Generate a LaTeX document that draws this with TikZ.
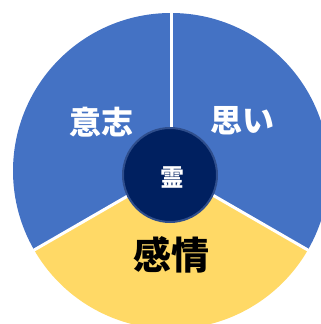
\documentclass[tikz,border=0pt]{standalone}
\usepackage{fontspec}
\newfontfamily\cjk{Noto Sans CJK JP}
\definecolor{pieblue}{HTML}{4472C4}
\definecolor{pieyellow}{HTML}{FFD966}
\definecolor{navy}{HTML}{002060}
\definecolor{navyring}{HTML}{2F4E8C}
\begin{document}
\begin{tikzpicture}[x=1bp,y=1bp,
  lbl/.style={inner sep=0pt, font=\cjk\bfseries},
  divider/.style={white, line width=3bp}]
\useasboundingbox (0,0) rectangle (321,324);
\clip (0,0) rectangle (321,324);
\coordinate (c) at (171,153);
\fill[pieblue] (c) -- ++(90:158) arc[start angle=90, end angle=-30, radius=158] -- cycle;
\fill[pieblue] (c) -- ++(90:158) arc[start angle=90, end angle=210, radius=158] -- cycle;
\fill[pieyellow] (c) -- ++(210:158) arc[start angle=210, end angle=330, radius=158] -- cycle;
\draw[divider] (c) -- ++(90:160);
\draw[divider] (c) -- ++(210:160);
\draw[divider] (c) -- ++(330:160);
\node[circle, minimum size=94bp, inner sep=0pt, fill=navy, draw=navyring, line width=2bp] (spirit) at (170,149) {};
\node[lbl, text=white, font=\cjk\bfseries\fontsize{24bp}{24bp}\selectfont] (rei) at (172,147) {霊};
\node[lbl, text=white, font=\cjk\bfseries\fontsize{32bp}{32bp}\selectfont] (ishi) at (101,202) {意志};
\node[lbl, text=white, font=\cjk\bfseries\fontsize{32bp}{32bp}\selectfont] (omoi) at (242,203) {思い};
\node[lbl, text=black, font=\cjk\bfseries\fontsize{38bp}{38bp}\selectfont] (kanjo) at (171,69) {感情};
\end{tikzpicture}
\end{document}
